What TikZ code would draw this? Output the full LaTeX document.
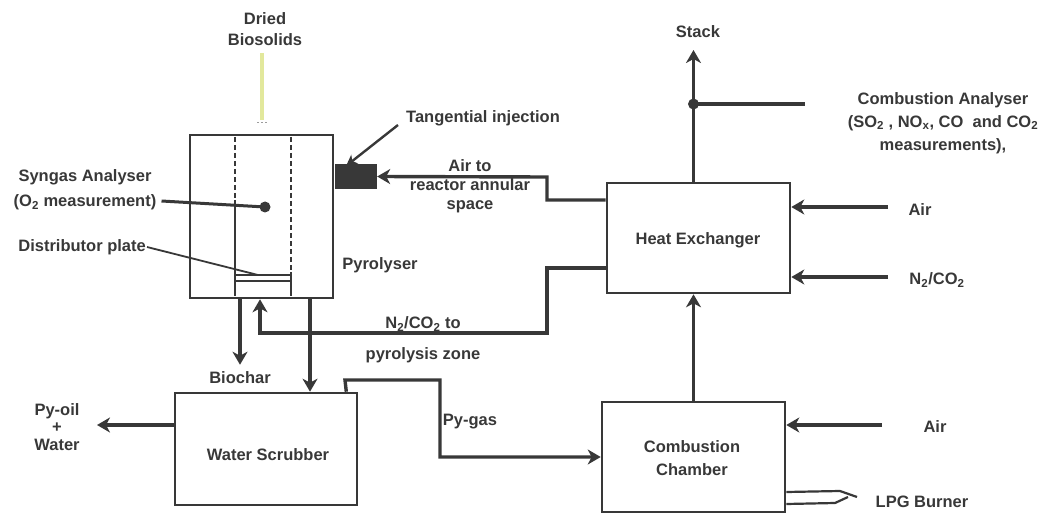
\documentclass[tikz,border=0pt]{standalone}
\usepackage{fontspec}
\setmainfont{Liberation Sans}
\usetikzlibrary{arrows.meta}
\definecolor{ink}{HTML}{383838}
\definecolor{paleyel}{HTML}{E2E89C}
\tikzset{
  boxx/.style={draw=ink, line width=2.6pt, inner sep=0pt},
  lbl/.style={text=ink, font=\bfseries\fontsize{16.5}{21}\selectfont, align=center, inner sep=1pt},
  conn/.style={draw=ink, line width=3.4pt},
  arr/.style={conn, -{Stealth[length=13pt,width=15pt,inset=4pt]}},
  thin/.style={draw=ink, line width=1.8pt},
}
\begin{document}
\begin{tikzpicture}[x=1pt,y=-1pt]
\useasboundingbox (0,0) rectangle (1049,513);
\clip (0,0) rectangle (1049,513);

% ---------------- boxes ----------------
\node[boxx, minimum width=143pt, minimum height=163pt] (pyro) at (261.5,216.5) {};
\node[boxx, minimum width=183pt, minimum height=110pt] (he) at (698.5,238) {};
\node[boxx, minimum width=182pt, minimum height=112pt] (ws) at (266,449) {};
\node[boxx, minimum width=183pt, minimum height=110pt] (cc) at (693.5,457) {};
\node[fill=ink, minimum width=42pt, minimum height=25pt, inner sep=0pt] (inj) at (356,176.5) {};

% pyrolyser internals
\draw[thin, dashed, dash pattern=on 5pt off 3pt] (235,137) -- (235,200);
\draw[thin] (235,200) -- (235,296);
\draw[thin, dashed, dash pattern=on 5pt off 3pt] (291,137) -- (291,272);
\draw[thin] (291,272) -- (291,296);
\draw[thin] (235,275) -- (291,275);
\draw[thin] (235,281) -- (291,281);

% ---------------- labels ----------------
\node[lbl] (dried) at (265,29) {Dried\\Biosolids};
\node[lbl] (tang) at (483,118) {Tangential injection};
\node[lbl, font=\bfseries\fontsize{16.5}{19}\selectfont] (airreac) at (470,186) {Air to\\reactor annular\\space};
\node[lbl, font=\bfseries\fontsize{16.5}{25}\selectfont] (syn) at (85,190) {Syngas Analyser\\(O\textsubscript{2} measurement)};
\node[lbl, anchor=east] (dist) at (147,247) {Distributor plate};
\node[lbl] (pyl) at (380,265) {Pyrolyser};
\node[lbl] (n2a) at (423,324) {N\textsubscript{2}/CO\textsubscript{2} to};
\node[lbl] (n2b) at (423,355) {pyrolysis zone};
\node[lbl] (biochar) at (240,378) {Biochar};
\node[lbl, font=\bfseries\fontsize{16.5}{17.5}\selectfont] (pyoil) at (57,427) {Py-oil\\+\\Water};
\node[lbl] (wsl) at (268,455) {Water Scrubber};
\node[lbl] (pygas) at (470,422) {Py-gas};
\node[lbl, font=\bfseries\fontsize{16.5}{23}\selectfont] (ccl) at (692,458) {Combustion\\Chamber};
\node[lbl] (aircc) at (935,427) {Air};
\node[lbl] (lpg) at (922,502) {LPG Burner};
\node[lbl] (stack) at (698,32) {Stack};
\node[lbl, font=\bfseries\fontsize{16.5}{23}\selectfont] (canal) at (943,123) {Combustion Analyser\\(SO\textsubscript{2} , NO\textsubscript{x}, CO\ \ and CO\textsubscript{2}\\measurements),};
\node[lbl] (hel) at (698,240) {Heat Exchanger};
\node[lbl] (airhe) at (920,210) {Air};
\node[lbl] (n2he) at (937,280) {N\textsubscript{2}/CO\textsubscript{2}};

% ---------------- connectors ----------------
% dried biosolids feed (pale)
\draw[draw=paleyel, line width=4pt] (dried.south) ++(-3,6) -- (262,120);
\draw[draw=ink!50, line width=0.8pt, dash pattern=on 2pt off 2pt] (257,122) -- (267,122);

% tangential injection pointer
\coordinate (tangstart) at (398,125);
\draw[conn, line width=2.4pt, -{Stealth[length=11pt,width=11pt,inset=3pt]}] (tangstart) -- (346,166);

% air to reactor annular space
\coordinate (k1) at (547,200);
\coordinate (k2) at (547,177);
\draw[arr] ([yshift=38pt]he.west) -- (k1) -- (k2) -- (inj.east);

% N2/CO2 to pyrolysis zone
\coordinate (m1) at (547,268);
\coordinate (m2) at (547,333);
\coordinate (m3) at (260,333);
\draw[arr] ([yshift=-30pt]he.west) -- (m1) -- (m2) -- (m3) -- ([xshift=-1.5pt]pyro.south);

% biochar
\draw[arr] ([xshift=-21.5pt]pyro.south) -- ([yshift=6pt]biochar.north);

% pyrolysis gas to scrubber
\draw[arr] ([xshift=48.5pt]pyro.south) -- ([xshift=44pt]ws.north);

% syngas analyser probe
\coordinate (probe) at (265,207);
\draw[conn, line width=3pt] ([xshift=4pt,yshift=-11pt]syn.east) -- (probe);
\fill[ink] (probe) circle (5.5pt);

% distributor plate pointer
\coordinate (plate) at (258,275);
\draw[thin] (dist.east) -- (plate);

% py-gas
\coordinate (g1) at (345,380);
\coordinate (g2) at (440,380);
\coordinate (g3) at (440,457);
\draw[arr] ([xshift=-12pt]ws.north east) -- (g1) -- (g2) -- (g3) -- (cc.west);

% py-oil + water
\coordinate (oilend) at (97,425);
\draw[arr] ([yshift=24pt]ws.west) -- (oilend);

% combustion chamber to heat exchanger
\draw[arr] (cc.north) -- (cc.north |- he.south);

% stack
\coordinate (stacktip) at (693.5,50);
\draw[arr] (cc.north |- he.north) -- (stacktip);
\coordinate (sdot) at (693.5,104);
\coordinate (send) at (805,104);
\fill[ink] (sdot) circle (5.5pt);
\draw[conn] (sdot) -- (send);

% air and N2/CO2 into heat exchanger
\coordinate (airin) at (888,207);
\coordinate (n2in) at (888,277);
\draw[arr] (airin) -- ([yshift=31pt]he.east);
\draw[arr] (n2in) -- ([yshift=-39pt]he.east);

% air into combustion chamber
\coordinate (aircin) at (882,425);
\draw[arr] (aircin) -- ([yshift=32pt]cc.east);

% LPG burner
\draw[thin, line width=2.2pt] ([yshift=-35pt]cc.east) -- (840,491) -- (857,497);
\draw[thin, line width=2.2pt] ([yshift=-47pt]cc.east) -- (835,503) -- (848,497);
\end{tikzpicture}
\end{document}
